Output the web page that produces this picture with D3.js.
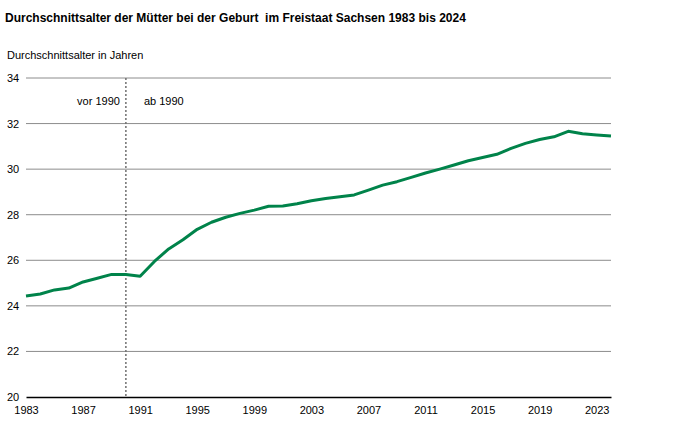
<!DOCTYPE html>
<html>
<head>
<meta charset="utf-8">
<script src="https://cdn.jsdelivr.net/npm/d3@7"></script>
<style>
  body { margin: 0; background: #fff; }
  svg text { font-family: "Liberation Sans", Arial, sans-serif; fill: #000; }
</style>
</head>
<body>
<div id="chart"></div>
<script>
// data: mean age of mothers at birth, Saxony
var years = d3.range(1983, 2025);
var ages = [24.43, 24.52, 24.70, 24.78, 25.05, 25.21, 25.38, 25.38, 25.30, 25.95,
            26.50, 26.90, 27.36, 27.67, 27.89, 28.06, 28.20, 28.37, 28.38, 28.48,
            28.61, 28.71, 28.79, 28.87, 29.08, 29.30, 29.45, 29.64, 29.83, 30.00,
            30.18, 30.37, 30.51, 30.65, 30.91, 31.13, 31.30, 31.42, 31.66, 31.55,
            31.50, 31.45];
var yTicks = [20, 22, 24, 26, 28, 30, 32, 34];
var xTicks = [1983, 1987, 1991, 1995, 1999, 2003, 2007, 2011, 2015, 2019, 2023];
var splitYear = 1990;

var svgWidth = 673;
var svgHeight = 433;

var margin = { top: 78, right: 62, bottom: 36, left: 26 };
var chartWidth = svgWidth - margin.left - margin.right;
var chartHeight = svgHeight - margin.top - margin.bottom;

var svg = d3.select("#chart").append("svg")
  .attr("width", svgWidth)
  .attr("height", svgHeight);

// titles
svg.append("text")
  .attr("x", 5)
  .attr("y", 22)
  .style("font-size", "12px")
  .style("font-weight", "bold")
  .style("white-space", "pre")
  .text("Durchschnittsalter der Mütter bei der Geburt  im Freistaat Sachsen 1983 bis 2024");

svg.append("text")
  .attr("x", 7)
  .attr("y", 59)
  .style("font-size", "11px")
  .text("Durchschnittsalter in Jahren");

var chartGroup = svg.append("g")
  .attr("transform", `translate(${margin.left}, ${margin.top})`);

var xScale = d3.scaleLinear()
  .domain([1983, 2024])
  .range([0, chartWidth]);

var yScale = d3.scaleLinear()
  .domain([20, 34])
  .range([chartHeight, 0]);

// gridlines
chartGroup.selectAll(".grid")
  .data(yTicks.filter(d => d > 20))
  .enter()
  .append("line")
  .attr("x1", 0)
  .attr("x2", chartWidth)
  .attr("y1", d => yScale(d))
  .attr("y2", d => yScale(d))
  .attr("stroke", "#8c8c8c")
  .attr("stroke-width", 1);

// y axis labels
var yAxis = d3.axisLeft(yScale).tickValues(yTicks).tickSize(0).tickPadding(7);
var yG = chartGroup.append("g").call(yAxis);
yG.select(".domain").remove();
yG.selectAll("text")
  .attr("text-anchor", "start")
  .attr("x", 7 - margin.left)
  .style("font-size", "11px");

// x axis
var xAxis = d3.axisBottom(xScale).tickValues(xTicks).tickFormat(d3.format("d")).tickSize(0).tickPadding(9);
var xG = chartGroup.append("g")
  .attr("transform", `translate(0, ${chartHeight})`)
  .call(xAxis);
xG.select(".domain").attr("stroke", "#000").attr("stroke-width", 1.5);
xG.selectAll("text").style("font-size", "11px");

// divider 1990
chartGroup.append("line")
  .attr("x1", xScale(splitYear))
  .attr("x2", xScale(splitYear))
  .attr("y1", 0)
  .attr("y2", chartHeight)
  .attr("stroke", "#707070")
  .attr("stroke-width", 1.5)
  .attr("stroke-dasharray", "2,2");

chartGroup.append("text")
  .attr("x", xScale(splitYear) - 6)
  .attr("y", 27)
  .attr("text-anchor", "end")
  .style("font-size", "11px")
  .text("vor 1990");

chartGroup.append("text")
  .attr("x", xScale(splitYear) + 18)
  .attr("y", 27)
  .style("font-size", "11px")
  .text("ab 1990");

// line
var line = d3.line()
  .x((d, i) => xScale(years[i]))
  .y(d => yScale(d));

chartGroup.append("path")
  .datum(ages)
  .attr("d", line)
  .attr("fill", "none")
  .attr("stroke", "#00834a")
  .attr("stroke-width", 3)
  .attr("stroke-linejoin", "round");
</script>
</body>
</html>
